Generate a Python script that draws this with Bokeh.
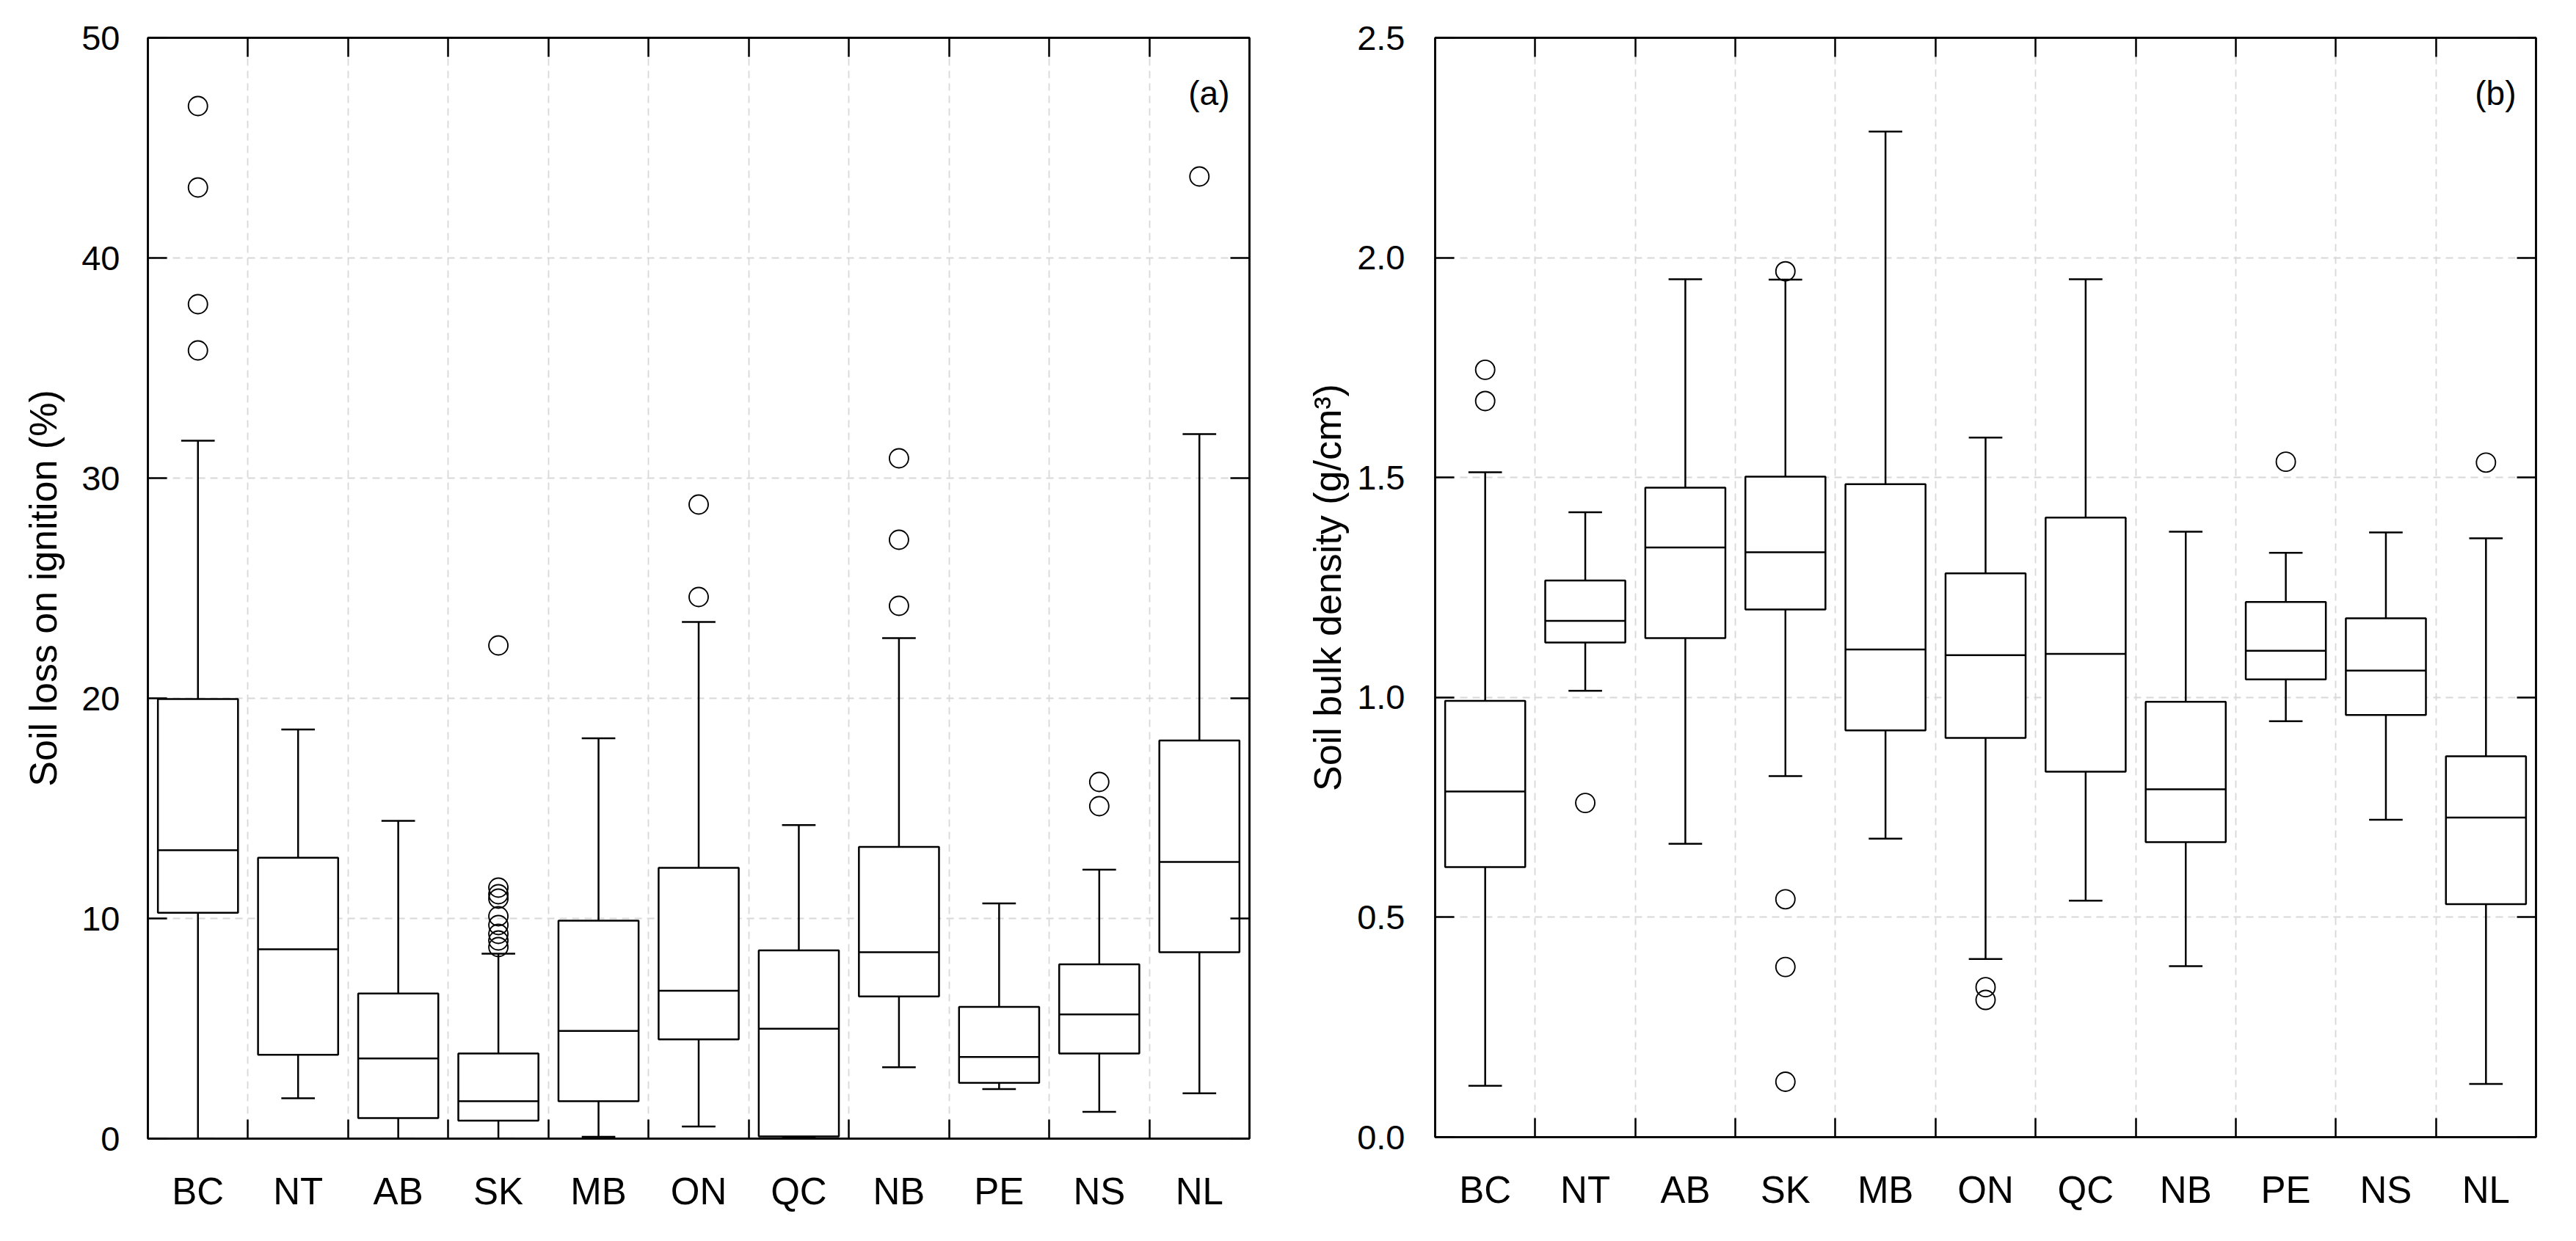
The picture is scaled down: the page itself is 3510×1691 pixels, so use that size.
from bokeh.plotting import figure
from bokeh.models import (Range1d, FixedTicker, LinearAxis, Label, ColumnDataSource,
                          PrintfTickFormatter)
from bokeh.transform import dodge
from bokeh.layouts import row
from bokeh.embed import file_html
from bokeh.resources import INLINE

# ---------------- data ----------------
provinces = ["BC", "NT", "AB", "SK", "MB", "ON", "QC", "NB", "PE", "NS", "NL"]

# (a) Soil loss on ignition (%)
loi_low = [0.0, 1.83, 0.0, 0.0, 0.08, 0.55, 0.05, 3.24, 2.25, 1.22, 2.06]
loi_q1 = [10.26, 3.81, 0.93, 0.82, 1.70, 4.51, 0.10, 6.46, 2.53, 3.87, 8.47]
loi_med = [13.1, 8.6, 3.64, 1.70, 4.89, 6.72, 4.99, 8.47, 3.71, 5.64, 12.57]
loi_q3 = [19.97, 12.76, 6.59, 3.87, 9.9, 12.3, 8.55, 13.25, 5.98, 7.92, 18.08]
loi_high = [31.7, 18.58, 14.43, 8.4, 18.18, 23.47, 14.24, 22.73, 10.68, 12.22, 32.0]
loi_out_cat = ["BC", "BC", "BC", "BC",
               "SK", "SK", "SK", "SK", "SK", "SK", "SK", "SK", "SK",
               "ON", "ON", "NB", "NB", "NB", "NS", "NS", "NL"]
loi_out_val = [46.9, 43.2, 37.9, 35.8,
               22.4, 11.4, 11.1, 10.9, 10.1, 9.7, 9.3, 9.0, 8.7,
               28.8, 24.6, 30.9, 27.2, 24.2, 16.2, 15.1, 43.7]
loi_ticks = [0, 10, 20, 30, 40, 50]

# (b) Soil bulk density (g/cm3)
bd_low = [0.117, 1.015, 0.667, 0.821, 0.679, 0.405, 0.538, 0.389, 0.946, 0.722, 0.121]
bd_q1 = [0.614, 1.125, 1.135, 1.200, 0.925, 0.908, 0.831, 0.671, 1.041, 0.960, 0.530]
bd_med = [0.786, 1.174, 1.341, 1.330, 1.109, 1.096, 1.099, 0.791, 1.106, 1.061, 0.727]
bd_q3 = [0.992, 1.266, 1.477, 1.502, 1.485, 1.282, 1.409, 0.990, 1.217, 1.180, 0.866]
bd_high = [1.512, 1.421, 1.951, 1.950, 2.287, 1.591, 1.951, 1.377, 1.329, 1.375, 1.362]
bd_out_cat = ["BC", "BC", "NT", "SK", "SK", "SK", "SK", "ON", "ON", "PE", "NL"]
bd_out_val = [1.745, 1.674, 0.760, 1.969, 0.541, 0.387, 0.126, 0.341, 0.312, 1.536, 1.534]
bd_ticks = [0.0, 0.5, 1.0, 1.5, 2.0, 2.5]

FONT = "Liberation Sans"
LW = 2.5
BOX_W = 0.8
CAP_W = 0.335


def make_panel(low, q1, med, q3, high, out_cat, out_val, yticks, ylabel, tag,
               fmt, frame_w, frame_h, bl, br, tick_standoff, label_standoff):
    n = len(provinces)
    xc = [i + 0.5 for i in range(n)]
    bounds = list(range(1, n))
    p = figure(frame_width=frame_w, frame_height=frame_h,
               x_range=Range1d(0, n), y_range=Range1d(yticks[0], yticks[-1]),
               output_backend="svg", toolbar_location=None,
               min_border_left=bl, min_border_right=br,
               min_border_top=51, min_border_bottom=120,
               x_axis_location=None, y_axis_location=None)
    p.background_fill_color = "white"
    p.border_fill_color = "white"
    p.outline_line_color = "black"
    p.outline_line_width = 2.5

    src = ColumnDataSource(dict(x=xc, low=low, q1=q1, med=med, q3=q3, high=high))

    # grid
    p.xgrid.ticker = FixedTicker(ticks=bounds)
    p.ygrid.ticker = FixedTicker(ticks=yticks)
    for g in (p.xgrid, p.ygrid):
        g.grid_line_color = "#d8d8d8"
        g.grid_line_dash = "10 7"
        g.grid_line_width = 1.8

    # whiskers
    p.segment(x0="x", y0="q3", x1="x", y1="high", source=src,
              line_color="black", line_width=LW)
    p.segment(x0="x", y0="low", x1="x", y1="q1", source=src,
              line_color="black", line_width=LW)
    p.segment(x0=dodge("x", -CAP_W / 2), y0="high", x1=dodge("x", CAP_W / 2), y1="high",
              source=src, line_color="black", line_width=LW)
    p.segment(x0=dodge("x", -CAP_W / 2), y0="low", x1=dodge("x", CAP_W / 2), y1="low",
              source=src, line_color="black", line_width=LW)
    # boxes
    p.vbar(x="x", bottom="q1", top="q3", width=BOX_W, source=src,
           fill_color="white", line_color="black", line_width=LW)
    p.segment(x0=dodge("x", -BOX_W / 2), y0="med", x1=dodge("x", BOX_W / 2), y1="med",
              source=src, line_color="black", line_width=LW)
    # outliers
    ox = [provinces.index(c) + 0.5 for c in out_cat]
    p.scatter(x=ox, y=out_val, marker="circle", size=26, fill_alpha=0,
              line_color="black", line_width=1.9)

    # axes
    bottom = LinearAxis(ticker=FixedTicker(ticks=xc, minor_ticks=bounds),
                        major_label_overrides={v: c for v, c in zip(xc, provinces)})
    bottom.major_tick_in = 0
    bottom.major_tick_out = 0
    bottom.minor_tick_in = 26
    bottom.minor_tick_out = 0
    bottom.minor_tick_line_width = LW
    bottom.axis_line_width = 2.5
    bottom.major_label_standoff = 43
    bottom.major_label_text_font = FONT
    bottom.major_label_text_font_size = "51px"
    bottom.major_label_text_color = "black"
    p.add_layout(bottom, "below")

    top = LinearAxis(ticker=FixedTicker(ticks=[], minor_ticks=bounds))
    top.major_tick_in = 0
    top.major_tick_out = 0
    top.minor_tick_in = 26
    top.minor_tick_out = 0
    top.minor_tick_line_width = LW
    top.axis_line_width = 2.5
    top.major_label_standoff = 0
    p.add_layout(top, "above")

    left = LinearAxis(ticker=FixedTicker(ticks=yticks), formatter=PrintfTickFormatter(format=fmt))
    left.major_tick_in = 26
    left.major_tick_out = 0
    left.major_tick_line_width = LW
    left.minor_tick_in = 0
    left.minor_tick_out = 0
    left.axis_line_width = 2.5
    left.major_label_standoff = tick_standoff
    left.major_label_text_font = FONT
    left.major_label_text_font_size = "47px"
    left.major_label_text_color = "black"
    left.axis_label = ylabel
    left.axis_label_text_font = FONT
    left.axis_label_text_font_size = "52px"
    left.axis_label_text_font_style = "normal"
    left.axis_label_text_color = "black"
    left.axis_label_standoff = label_standoff
    p.add_layout(left, "left")

    right = LinearAxis(ticker=FixedTicker(ticks=[], minor_ticks=yticks))
    right.major_tick_in = 0
    right.major_tick_out = 0
    right.minor_tick_in = 26
    right.minor_tick_out = 0
    right.minor_tick_line_width = LW
    right.axis_line_width = 2.5
    right.major_label_standoff = 0
    p.add_layout(right, "right")

    p.add_layout(Label(x=len(provinces), y=yticks[-1], x_offset=-27, y_offset=-75,
                       text=tag, text_align="right", text_baseline="alphabetic",
                       text_font=FONT, text_font_size="46px", text_color="black"))
    return p


p1 = make_panel(loi_low, loi_q1, loi_med, loi_q3, loi_high, loi_out_cat, loi_out_val,
                loi_ticks, "Soil loss on ignition (%)", "(a)", "%d",
                1501, 1500, 201, 50, 38, 20)
p2 = make_panel(bd_low, bd_q1, bd_med, bd_q3, bd_high, bd_out_cat, bd_out_val,
                bd_ticks, "Soil bulk density (g/cm³)", "(b)", "%.1f",
                1500, 1498, 203, 40, 41, 8)

layout = row(p1, p2, spacing=0)
open("out.html", "w").write(file_html(layout, INLINE))
